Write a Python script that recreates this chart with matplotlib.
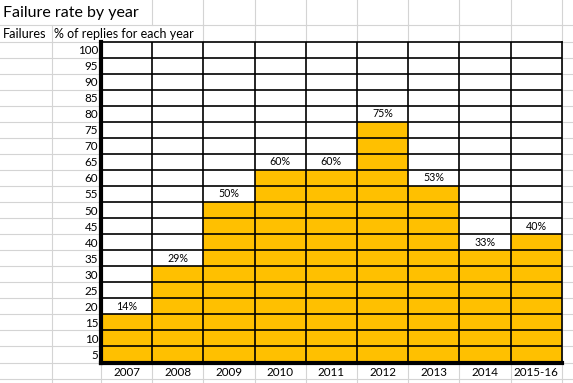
import math
import matplotlib
matplotlib.use("Agg")
import matplotlib.pyplot as plt

years = ["2007", "2008", "2009", "2010", "2011", "2012", "2013", "2014", "2015-16"]
failure_pct = [14, 29, 50, 60, 60, 75, 53, 33, 40]
row_labels = [100, 95, 90, 85, 80, 75, 70, 65, 60, 55, 50, 45, 40, 35, 30, 25, 20, 15, 10, 5]

title = "Failure rate by year"
col_a_head = "Failures"
col_b_head = "% of replies for each year"

plt.rcParams["font.family"] = ["Lato", "DejaVu Sans"]

W, H = 573, 383
fig = plt.figure(figsize=(W / 100, H / 100), dpi=100)

# spreadsheet background grid (pixel coords)
bg = fig.add_axes([0, 0, 1, 1])
bg.set_xlim(0, W)
bg.set_ylim(H, 0)
bg.axis("off")
grid_c = "#d4d4d4"

top, row_h = 41.5, 16.05
left, col_w = 101, 51.2
col_x = [52] + [left + col_w * i for i in range(11)]
row_y = [25] + [top + row_h * i for i in range(22)]

for y in row_y:
    bg.plot([0, W], [y, y], color=grid_c, lw=0.8)
for x in col_x:
    # text overflowing into the next cells hides the gridline there
    hide_title = x < 140
    hide_head = 60 < x < 195
    if not hide_title:
        bg.plot([x, x], [0, 25], color=grid_c, lw=0.8)
    if not hide_head:
        bg.plot([x, x], [25, 41.5], color=grid_c, lw=0.8)
    bg.plot([x, x], [41.5, H], color=grid_c, lw=0.8)

bg.text(3, 13, title, fontsize=11.5, va="center", ha="left")
bg.text(3, 33.5, col_a_head, fontsize=9.2, va="center", ha="left")
bg.text(54, 33.5, col_b_head, fontsize=9.0, va="center", ha="left")

# chart area made of cells
bottom = top + row_h * 20
ax = fig.add_axes([left / W, (H - bottom) / H, col_w * 9 / W, (bottom - top) / H])
ax.set_xlim(0, len(years))
ax.set_ylim(0, 100)

heights = [5 * math.ceil(v / 5) for v in failure_pct]
xs = [i + 0.5 for i in range(len(years))]
ax.bar(xs, heights, width=1.0, color="#FFC000", edgecolor="none", zorder=1)

for y in range(5, 100, 5):
    ax.axhline(y, color="black", lw=1.2, zorder=2)
for x in range(1, len(years)):
    ax.axvline(x, color="black", lw=1.2, zorder=2)

for x, h, v in zip(xs, heights, failure_pct):
    ax.text(x, h + 2.5, f"{v}%", ha="center", va="center", fontsize=7.7, zorder=3)

ax.set_yticks([v - 2.5 for v in row_labels])
ax.set_yticklabels([str(v) for v in row_labels], fontsize=8.4)
ax.set_xticks(xs)
ax.set_xticklabels(years, fontsize=8.4)
ax.tick_params(axis="y", length=0, pad=2)
ax.tick_params(axis="x", length=0, pad=3)

ax.spines["left"].set_linewidth(3)
ax.spines["bottom"].set_linewidth(3)
ax.spines["top"].set_linewidth(1.2)
ax.spines["right"].set_linewidth(1.2)

fig.savefig("out.png", dpi=100)
